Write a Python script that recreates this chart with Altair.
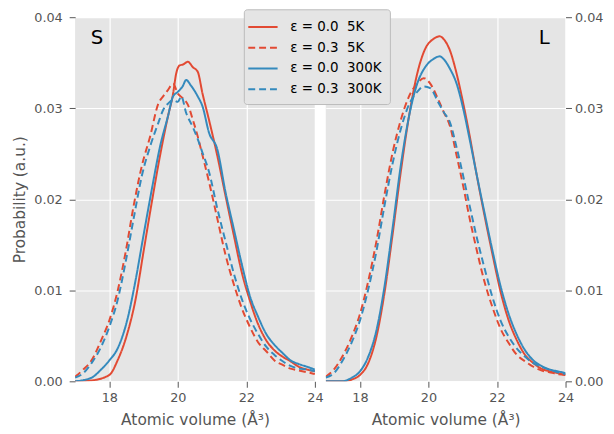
import altair as alt
import pandas as pd

RED = "#E24A33"
BLUE = "#348ABD"
FONT = "DejaVu Sans"

labels = ["ε = 0.0 \u00a05K", "ε = 0.3 \u00a05K", "ε = 0.0 \u00a0300K", "ε = 0.3 \u00a0300K"]
colors = [RED, RED, BLUE, BLUE]
dashes = [[1, 0], [7, 4], [1, 0], [7, 4]]

# ---------------- panel S ----------------
s_x_e00_5K = [17.0, 17.48, 18.0, 18.24, 18.52, 18.76, 19.0, 19.24, 19.48, 19.71, 19.86, 19.95, 20.05,
              20.15, 20.29, 20.44, 20.58, 20.72, 20.91, 21.15, 21.39, 21.63, 21.87, 22.1, 22.34, 22.58,
              22.82, 23.06, 23.29, 23.53, 23.77, 24.0]
s_y_e00_5K = [0.0000, 0.0001, 0.0007, 0.0023, 0.0052, 0.0089, 0.0143, 0.0197, 0.0248, 0.0291, 0.0316,
              0.0338, 0.0347, 0.0348, 0.0351, 0.0345, 0.0340, 0.0316, 0.0287, 0.0248, 0.0204, 0.0161,
              0.0119, 0.0089, 0.0063, 0.0045, 0.0034, 0.0027, 0.0022, 0.0016, 0.0013, 0.0011]

s_x_e00_300K = [17.0, 17.48, 17.76, 18.0, 18.24, 18.52, 18.76, 19.0, 19.24, 19.48, 19.71, 19.86, 20.0,
                20.14, 20.24, 20.38, 20.58, 20.72, 20.91, 21.15, 21.39, 21.63, 21.87, 22.1, 22.34, 22.58,
                22.82, 23.06, 23.29, 23.53, 23.77, 24.0]
s_y_e00_300K = [0.0000, 0.0004, 0.0013, 0.0023, 0.0036, 0.0067, 0.0110, 0.0161, 0.0211, 0.0258, 0.0291,
                0.0313, 0.0318, 0.0324, 0.0331, 0.0325, 0.0313, 0.0302, 0.0273, 0.0255, 0.0208, 0.0168,
                0.0128, 0.0094, 0.0071, 0.0052, 0.0040, 0.0031, 0.0023, 0.0019, 0.0016, 0.0013]

s_x_e03_5K = [17.0, 17.24, 17.48, 17.76, 18.0, 18.24, 18.48, 18.71, 18.95, 19.19, 19.43, 19.57, 19.71,
              19.86, 20.0, 20.14, 20.29, 20.44, 20.58, 20.72, 20.91, 21.15, 21.39, 21.63, 21.87, 22.1,
              22.34, 22.58, 22.82, 23.06, 23.29, 23.53, 23.77, 24.0]
s_y_e03_5K = [0.0005, 0.0013, 0.0023, 0.0045, 0.0067, 0.0099, 0.0143, 0.0193, 0.0237, 0.0269, 0.0305,
              0.0313, 0.0320, 0.0327, 0.0316, 0.0311, 0.0304, 0.0287, 0.0269, 0.0248, 0.0219, 0.0179,
              0.0139, 0.0107, 0.0080, 0.0060, 0.0043, 0.0033, 0.0023, 0.0018, 0.0014, 0.0012, 0.0010, 0.0008]

s_x_e03_300K = [17.0, 17.24, 17.48, 17.76, 18.0, 18.24, 18.48, 18.71, 18.95, 19.19, 19.43, 19.57, 19.71,
                19.86, 20.0, 20.1, 20.24, 20.44, 20.58, 20.72, 20.91, 21.15, 21.39, 21.63, 21.87, 22.1,
                22.34, 22.58, 22.82, 23.06, 23.29, 23.53, 23.77, 24.0]
s_y_e03_300K = [0.0004, 0.0009, 0.0020, 0.0038, 0.0060, 0.0089, 0.0132, 0.0179, 0.0226, 0.0258, 0.0284,
                0.0298, 0.0305, 0.0309, 0.0307, 0.0313, 0.0295, 0.0279, 0.0266, 0.0251, 0.0230, 0.0190,
                0.0154, 0.0119, 0.0090, 0.0069, 0.0052, 0.0038, 0.0029, 0.0022, 0.0017, 0.0014, 0.0013, 0.0011]

# ---------------- panel L ----------------
l_x_solid = [17.0, 17.48, 17.76, 18.0, 18.24, 18.48, 18.71, 18.95, 19.19, 19.43, 19.67, 19.9, 20.14,
             20.33, 20.44, 20.63, 20.82, 21.01, 21.2, 21.39, 21.63, 21.87, 22.1, 22.34, 22.58, 22.82,
             23.06, 23.29, 23.53, 23.77, 24.0]
l_y_e00_5K = [0.0000, 0.0000, 0.0002, 0.0007, 0.0020, 0.0049, 0.0096, 0.0161, 0.0230, 0.0291, 0.0338,
              0.0365, 0.0376, 0.0379, 0.0376, 0.0363, 0.0338, 0.0306, 0.0270, 0.0230, 0.0183, 0.0139,
              0.0099, 0.0067, 0.0045, 0.0029, 0.0020, 0.0014, 0.0011, 0.0009, 0.0007]
l_y_e00_300K = [0.0000, 0.0000, 0.0004, 0.0011, 0.0027, 0.0056, 0.0103, 0.0168, 0.0237, 0.0291, 0.0327,
                0.0345, 0.0354, 0.0357, 0.0354, 0.0343, 0.0327, 0.0300, 0.0266, 0.0230, 0.0186, 0.0143,
                0.0105, 0.0074, 0.0051, 0.0034, 0.0023, 0.0017, 0.0013, 0.0011, 0.0009]

l_x_dashed = [17.0, 17.24, 17.48, 17.76, 18.0, 18.24, 18.48, 18.71, 18.95, 19.19, 19.43, 19.67, 19.86,
              20.05, 20.29, 20.44, 20.63, 20.82, 21.01, 21.2, 21.39, 21.63, 21.87, 22.1, 22.34, 22.58,
              22.82, 23.06, 23.29, 23.53, 23.77, 24.0]
l_y_e03_5K = [0.0005, 0.0013, 0.0027, 0.0049, 0.0074, 0.0110, 0.0154, 0.0204, 0.0251, 0.0287, 0.0313,
              0.0327, 0.0333, 0.0327, 0.0309, 0.0296, 0.0280, 0.0248, 0.0215, 0.0179, 0.0147, 0.0110,
              0.0081, 0.0058, 0.0042, 0.0029, 0.0022, 0.0016, 0.0012, 0.0010, 0.0008, 0.0007]
l_y_e03_300K = [0.0004, 0.0009, 0.0022, 0.0043, 0.0067, 0.0101, 0.0143, 0.0192, 0.0239, 0.0277, 0.0304,
                0.0318, 0.0324, 0.0322, 0.0306, 0.0296, 0.0284, 0.0257, 0.0226, 0.0193, 0.0161, 0.0125,
                0.0092, 0.0067, 0.0049, 0.0036, 0.0027, 0.0020, 0.0016, 0.0013, 0.0010, 0.0008]

y_ticks = [0.0, 0.01, 0.02, 0.03, 0.04]
x_ticks = [18, 20, 22, 24]


def frame(series):
    rows = []
    for lab, xs, ys in series:
        for i, (x, y) in enumerate(zip(xs, ys)):
            rows.append({"series": lab, "x": x, "y": y, "order": i})
    return pd.DataFrame(rows)


s_df = frame([(labels[0], s_x_e00_5K, s_y_e00_5K), (labels[1], s_x_e03_5K, s_y_e03_5K),
              (labels[2], s_x_e00_300K, s_y_e00_300K), (labels[3], s_x_e03_300K, s_y_e03_300K)])
l_df = frame([(labels[0], l_x_solid, l_y_e00_5K), (labels[1], l_x_dashed, l_y_e03_5K),
              (labels[2], l_x_solid, l_y_e00_300K), (labels[3], l_x_dashed, l_y_e03_300K)])

color_scale = alt.Scale(domain=labels, range=colors)
dash_scale = alt.Scale(domain=labels, range=dashes)


def panel(df, tag, tag_x, y_orient, y_title, width):
    xenc = alt.X("x:Q", scale=alt.Scale(domain=[17, 24], nice=False, zero=False),
                 axis=alt.Axis(values=x_ticks, title="Atomic volume (Å³)", format="d",
                               labelFlush=False, labelPadding=4, titlePadding=9))
    if y_title:
        yaxis = alt.Axis(values=y_ticks, format=".2f", orient=y_orient, title=y_title,
                         titlePadding=6, labelFlush=False, labelPadding=7)
    else:
        yaxis = alt.Axis(values=y_ticks, format=".2f", orient=y_orient, title=None,
                         labelFlush=False, labelPadding=3)
    yenc = alt.Y("y:Q", scale=alt.Scale(domain=[0, 0.04], nice=False), axis=yaxis)
    lines = alt.Chart(df).mark_line(strokeWidth=2, clip=True, interpolate="monotone").encode(
        x=xenc, y=yenc,
        color=alt.Color("series:N", scale=color_scale, sort=labels, title=None),
        strokeDash=alt.StrokeDash("series:N", scale=dash_scale, sort=labels, title=None),
        order="order:Q",
    )
    tag_df = pd.DataFrame({"x": [tag_x], "y": [0.0377], "t": [tag]})
    text = alt.Chart(tag_df).mark_text(fontSize=20, font=FONT, color="black").encode(
        x="x:Q", y="y:Q", text="t:N")
    return alt.layer(lines, text).properties(width=width, height=369)


left = panel(s_df, "S", 17.64, "left", "Probability (a.u.)", 243)
right = panel(l_df, "L", 23.38, "right", None, 243)

chart = alt.hconcat(left, right, spacing=11, bounds="flush").resolve_scale(
    color="shared", strokeDash="shared"
).resolve_legend(color="shared", strokeDash="shared").properties(
    autosize=alt.AutoSizeParams(type="none"),
    padding={"left": 68, "top": 4, "right": 538, "bottom": 422},
).configure_view(fill="#E5E5E5", stroke=None).configure_axis(
    labelFont=FONT, titleFont=FONT, labelFontSize=13, titleFontSize=15.6,
    labelColor="#555555", titleColor="#555555", titleFontWeight="normal",
    tickColor="#555555", tickSize=6, tickWidth=1, domain=False,
    grid=True, gridColor="white", gridWidth=1.2,
).configure_legend(
    orient="none", legendX=171, legendY=-8, fillColor="#E5E5E5", strokeColor="#BBBBBB",
    cornerRadius=3, padding=8, labelFont=FONT, labelFontSize=13.6, labelColor="black",
    symbolType="M-1.5,0L1.8,0", symbolStrokeWidth=2, symbolSize=324, symbolFillColor="transparent",
    rowPadding=4, labelOffset=19,
)

chart.save("out.html", embed_options={"renderer": "svg", "actions": False})
